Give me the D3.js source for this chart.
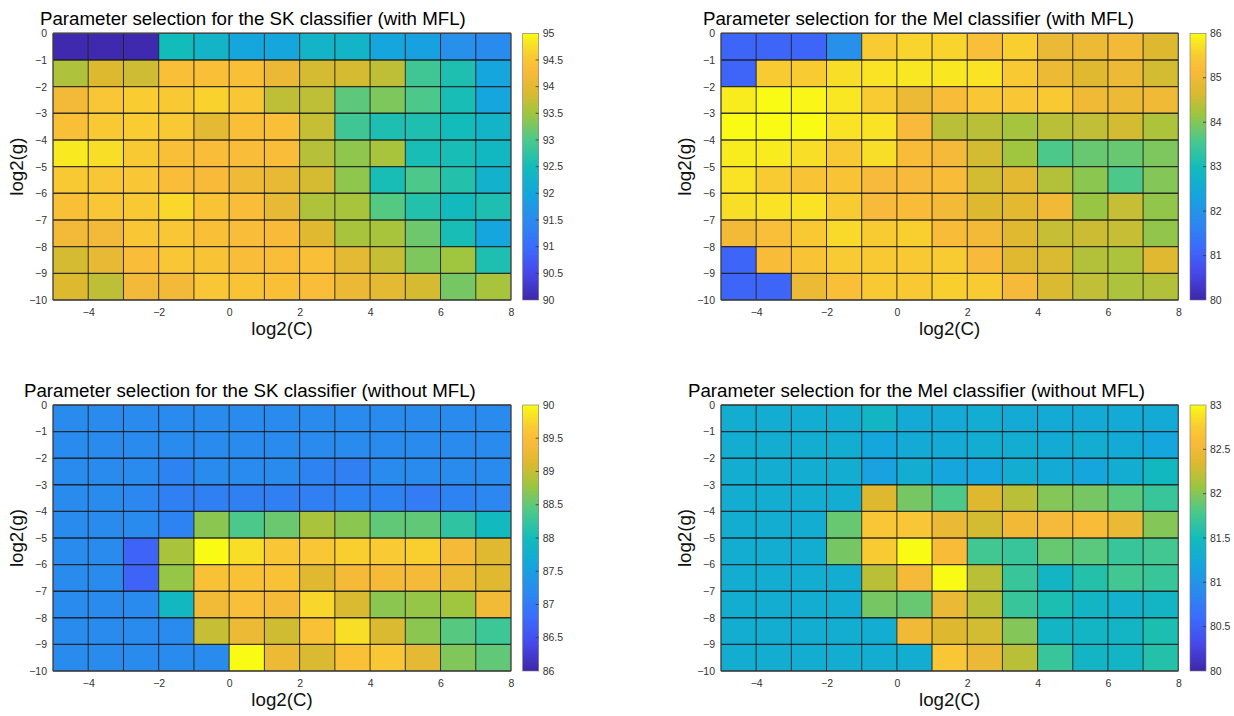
<!DOCTYPE html>
<html>
<head>
<meta charset="utf-8">
<script src="https://cdn.jsdelivr.net/npm/d3@7"></script>
<style>
  body { margin: 0; background: #fff; }
  svg { display: block; }
  text { font-family: "Liberation Sans", Arial, Helvetica, sans-serif; }
</style>
</head>
<body>
<svg id="chart" width="1234" height="716"></svg>
<script>
// Grid: left edge of each log2(C) cell, top edge of each log2(g) cell
const logC = [-5, -4, -3, -2, -1, 0, 1, 2, 3, 4, 5, 6, 7];
const logG = [0, -1, -2, -3, -4, -5, -6, -7, -8, -9];
const xTicks = [-4, -2, 0, 2, 4, 6, 8];
const yTicks = [0, -1, -2, -3, -4, -5, -6, -7, -8, -9, -10];

const titles = [
  "Parameter selection for the SK classifier (with MFL)",
  "Parameter selection for the Mel classifier (with MFL)",
  "Parameter selection for the SK classifier (without MFL)",
  "Parameter selection for the Mel classifier (without MFL)"
];

// accuracy (%) per cell, rows = log2(g) 0..-9, cols = log2(C) -5..7
const skWithMFL = [
  [90.05, 90.05, 90.05, 92.5, 92.3, 92.0, 92.0, 92.3, 92.3, 92.0, 91.9, 91.6, 91.5],
  [93.6, 93.9, 93.8, 94.4, 94.4, 94.4, 94.1, 93.85, 93.85, 93.7, 92.9, 92.6, 92.0],
  [94.2, 94.5, 94.6, 94.55, 94.65, 94.5, 93.7, 93.7, 93.1, 93.3, 93.0, 92.55, 92.0],
  [94.4, 94.55, 94.6, 94.55, 94.0, 94.4, 94.4, 93.75, 92.9, 92.6, 92.6, 92.5, 92.3],
  [94.85, 94.75, 94.55, 94.4, 94.35, 94.35, 94.35, 93.65, 93.4, 93.55, 92.55, 92.55, 92.4],
  [94.55, 94.5, 94.5, 94.35, 94.3, 94.15, 94.05, 93.85, 93.4, 92.55, 93.0, 92.65, 92.25],
  [94.4, 94.5, 94.55, 94.7, 94.45, 94.35, 94.05, 93.6, 93.55, 93.05, 92.65, 92.45, 92.6],
  [94.2, 94.2, 94.5, 94.5, 94.4, 94.35, 94.3, 93.95, 93.55, 93.55, 93.2, 92.55, 92.0],
  [93.85, 94.05, 94.35, 94.5, 94.45, 94.35, 94.35, 94.4, 94.0, 93.75, 93.3, 93.5, 92.6],
  [93.9, 93.7, 94.2, 94.2, 94.5, 94.45, 94.4, 94.35, 94.1, 94.0, 93.85, 93.25, 93.55]
];

const melWithMFL = [
  [81.1, 81.1, 81.1, 81.9, 85.5, 85.6, 85.6, 85.25, 85.55, 84.9, 84.95, 85.05, 84.7],
  [81.1, 85.5, 85.5, 85.7, 85.75, 85.8, 85.8, 85.75, 85.45, 84.95, 84.75, 84.95, 84.6],
  [85.85, 86.0, 85.95, 85.8, 85.5, 84.95, 85.2, 85.4, 85.4, 85.45, 85.0, 84.95, 85.0],
  [86.0, 86.0, 86.0, 85.75, 85.75, 85.15, 84.4, 84.4, 84.25, 84.4, 84.45, 84.6, 84.3],
  [85.85, 85.85, 85.7, 85.45, 85.7, 85.2, 85.1, 84.6, 84.2, 83.6, 83.8, 83.8, 83.95],
  [85.75, 85.5, 85.35, 85.35, 85.15, 85.15, 85.2, 84.6, 84.8, 84.35, 84.05, 83.6, 84.0],
  [85.7, 85.75, 85.75, 85.5, 85.15, 85.2, 85.05, 84.7, 84.8, 85.0, 84.15, 84.5, 84.1],
  [85.05, 85.25, 85.45, 85.65, 85.5, 85.55, 85.2, 85.05, 84.75, 84.5, 84.55, 84.5, 84.1],
  [81.1, 85.2, 85.35, 85.5, 85.45, 85.45, 85.5, 85.15, 84.75, 84.65, 84.35, 84.3, 84.75],
  [81.1, 81.1, 84.95, 85.25, 85.45, 85.45, 85.55, 85.5, 85.1, 84.65, 84.45, 84.3, 84.35]
];

const skWithoutMFL = [
  [87.2, 87.2, 87.2, 87.2, 87.2, 87.2, 87.2, 87.2, 87.2, 87.2, 87.2, 87.2, 87.2],
  [87.2, 87.2, 87.2, 87.2, 87.2, 87.2, 87.2, 87.2, 87.2, 87.2, 87.2, 87.2, 87.2],
  [87.2, 87.2, 87.2, 87.1, 87.2, 87.2, 87.2, 87.1, 87.05, 87.2, 87.2, 87.2, 87.2],
  [87.2, 87.2, 87.15, 87.05, 87.05, 87.05, 87.05, 87.05, 87.1, 87.1, 87.0, 87.1, 87.15],
  [87.2, 87.2, 87.2, 87.1, 88.7, 88.4, 88.55, 88.85, 88.7, 88.5, 88.5, 88.2, 87.95],
  [87.2, 87.2, 86.7, 88.85, 90.0, 89.8, 89.6, 89.6, 89.7, 89.65, 89.7, 89.4, 89.15],
  [87.2, 87.2, 86.7, 88.75, 89.55, 89.55, 89.55, 89.15, 89.4, 89.4, 89.4, 89.3, 89.15],
  [87.2, 87.2, 87.2, 87.9, 89.35, 89.5, 89.4, 89.75, 89.1, 88.7, 88.75, 88.8, 89.35],
  [87.2, 87.2, 87.2, 87.2, 89.0, 89.3, 89.05, 89.55, 89.8, 89.1, 88.7, 88.45, 88.3],
  [87.2, 87.2, 87.2, 87.2, 87.2, 90.0, 89.3, 89.1, 89.55, 89.6, 89.2, 88.65, 88.5]
];

const melWithoutMFL = [
  [81.3, 81.3, 81.3, 81.3, 81.4, 81.25, 81.25, 81.3, 81.25, 81.25, 81.25, 81.25, 81.25],
  [81.3, 81.3, 81.3, 81.3, 81.2, 81.25, 81.25, 81.3, 81.3, 81.25, 81.3, 81.25, 81.2],
  [81.3, 81.3, 81.3, 81.3, 81.15, 81.3, 81.2, 81.2, 81.3, 81.25, 81.2, 81.3, 81.45],
  [81.3, 81.3, 81.3, 81.3, 82.35, 81.95, 81.8, 82.35, 82.2, 82.0, 81.95, 81.85, 81.7],
  [81.3, 81.3, 81.3, 81.9, 82.7, 82.7, 82.45, 82.3, 82.5, 82.55, 82.6, 82.45, 82.0],
  [81.3, 81.3, 81.3, 81.95, 82.75, 83.0, 82.6, 81.75, 81.7, 81.9, 81.85, 81.7, 81.75],
  [81.3, 81.3, 81.3, 81.3, 82.2, 82.55, 83.0, 82.2, 81.7, 81.4, 81.6, 81.75, 81.7],
  [81.3, 81.3, 81.3, 81.3, 81.95, 81.9, 82.45, 82.2, 81.7, 81.55, 81.4, 81.35, 81.4],
  [81.3, 81.3, 81.3, 81.3, 81.3, 82.5, 82.35, 82.3, 82.0, 81.4, 81.4, 81.4, 81.55],
  [81.3, 81.3, 81.3, 81.3, 81.3, 81.3, 82.7, 82.45, 82.2, 81.7, 81.4, 81.4, 81.6]
];

// colorbar ranges and ticks
const skWithTicks = [90, 90.5, 91, 91.5, 92, 92.5, 93, 93.5, 94, 94.5, 95];
const melWithTicks = [80, 81, 82, 83, 84, 85, 86];
const skWithoutTicks = [86, 86.5, 87, 87.5, 88, 88.5, 89, 89.5, 90];
const melWithoutTicks = [80, 80.5, 81, 81.5, 82, 82.5, 83];

// parula-like colormap
const parulaPos = [0, 0.1, 0.2, 0.3, 0.4, 0.5, 0.6, 0.7, 0.78, 0.86, 0.92, 1];
const parulaCol = ["#3e26a8", "#4748e9", "#3b6cfc", "#2a8bee", "#14a6dc", "#12bcba",
                   "#4cc98a", "#a0c53e", "#ddb930", "#f9ba3a", "#f9cc32", "#f9fb15"];
const parula = d3.scaleLinear().domain(parulaPos).range(parulaCol)
  .interpolate(d3.interpolateRgb).clamp(true);

const svg = d3.select("#chart");

const grad = svg.append("defs").append("linearGradient")
  .attr("id", "parulaGrad")
  .attr("x1", 0).attr("y1", 1).attr("x2", 0).attr("y2", 0);
grad.selectAll("stop")
  .data(d3.range(0, 1.0001, 0.02))
  .enter().append("stop")
  .attr("offset", d => d)
  .attr("stop-color", d => parula(d));

const panels = [
  { title: titles[0], values: skWithMFL, ticks: skWithTicks,
    box: { left: 53, right: 511, top: 33.3, bottom: 300, titleX: 40 } },
  { title: titles[1], values: melWithMFL, ticks: melWithTicks,
    box: { left: 721, right: 1178.3, top: 33.3, bottom: 300, titleX: 703 } },
  { title: titles[2], values: skWithoutMFL, ticks: skWithoutTicks,
    box: { left: 53, right: 511, top: 405, bottom: 671, titleX: 24 } },
  { title: titles[3], values: melWithoutMFL, ticks: melWithoutTicks,
    box: { left: 721, right: 1178.3, top: 405, bottom: 671, titleX: 688 } }
];

panels.forEach(p => drawPanel(p));

function drawPanel(p) {
  const b = p.box;
  const g = svg.append("g");

  const x = d3.scaleLinear().domain([logC[0], logC[logC.length - 1] + 1]).range([b.left, b.right]);
  const y = d3.scaleLinear().domain([logG[logG.length - 1] - 1, logG[0]]).range([b.bottom, b.top]);
  const vmin = p.ticks[0], vmax = p.ticks[p.ticks.length - 1];
  const color = v => parula((v - vmin) / (vmax - vmin));

  // cells
  const cells = [];
  p.values.forEach((row, i) => row.forEach((v, j) => cells.push({ c: logC[j], gg: logG[i], v })));
  g.selectAll("rect.cell")
    .data(cells)
    .enter().append("rect")
    .attr("class", "cell")
    .attr("x", d => x(d.c))
    .attr("y", d => y(d.gg))
    .attr("width", d => x(d.c + 1) - x(d.c))
    .attr("height", d => y(d.gg - 1) - y(d.gg))
    .attr("fill", d => color(d.v));

  // cell borders
  const xEdges = logC.concat([logC[logC.length - 1] + 1]);
  const yEdges = logG.concat([logG[logG.length - 1] - 1]);
  g.selectAll("line.v")
    .data(xEdges)
    .enter().append("line")
    .attr("x1", d => x(d)).attr("x2", d => x(d))
    .attr("y1", b.top).attr("y2", b.bottom)
    .attr("stroke", "#141414").attr("stroke-width", 1).attr("stroke-opacity", 0.85);
  g.selectAll("line.h")
    .data(yEdges)
    .enter().append("line")
    .attr("y1", d => y(d)).attr("y2", d => y(d))
    .attr("x1", b.left).attr("x2", b.right)
    .attr("stroke", "#141414").attr("stroke-width", 1.4).attr("stroke-opacity", 0.85);

  // axes
  const xAxis = g.append("g")
    .attr("transform", `translate(0,${b.bottom})`)
    .call(d3.axisBottom(x).tickValues(xTicks).tickSize(0).tickPadding(8.5));
  const yAxis = g.append("g")
    .attr("transform", `translate(${b.left},0)`)
    .call(d3.axisLeft(y).tickValues(yTicks).tickSize(0).tickPadding(6));
  [xAxis, yAxis].forEach(a => {
    a.select(".domain").remove();
    a.selectAll("text")
      .style("font-family", "'Liberation Sans', Arial, sans-serif")
      .style("font-size", "10.5px")
      .style("fill", "#333");
  });

  // outline
  g.append("rect")
    .attr("x", b.left).attr("y", b.top)
    .attr("width", b.right - b.left).attr("height", b.bottom - b.top)
    .attr("fill", "none").attr("stroke", "#555").attr("stroke-width", 0.8);

  // title and labels
  g.append("text")
    .attr("x", b.titleX).attr("y", b.top - 8)
    .style("font-size", "18.7px")
    .style("fill", "#000")
    .text(p.title);

  g.append("text")
    .attr("x", (b.left + b.right) / 2).attr("y", b.bottom + 35)
    .attr("text-anchor", "middle")
    .style("font-size", "18.7px")
    .style("fill", "#111")
    .text("log2(C)");

  g.append("text")
    .attr("transform", `translate(${b.left - 30},${(b.top + b.bottom) / 2}) rotate(-90)`)
    .attr("text-anchor", "middle")
    .style("font-size", "18.7px")
    .style("fill", "#111")
    .text("log2(g)");

  // colorbar
  const cbLeft = b.right + 11.7, cbW = 16;
  const cy = d3.scaleLinear().domain([vmin, vmax]).range([b.bottom, b.top]);
  g.append("rect")
    .attr("x", cbLeft).attr("y", b.top)
    .attr("width", cbW).attr("height", b.bottom - b.top)
    .attr("fill", "url(#parulaGrad)")
    .attr("stroke", "#777").attr("stroke-width", 0.6);
  g.selectAll("line.cbt")
    .data(p.ticks.slice(1, -1))
    .enter().append("line")
    .attr("x1", cbLeft + cbW - 3).attr("x2", cbLeft + cbW)
    .attr("y1", d => cy(d)).attr("y2", d => cy(d))
    .attr("stroke", "#333").attr("stroke-width", 0.8);
  g.selectAll("text.cbl")
    .data(p.ticks)
    .enter().append("text")
    .attr("x", cbLeft + cbW + 4)
    .attr("y", d => cy(d))
    .attr("dy", "0.35em")
    .style("font-size", "10.5px")
    .style("fill", "#333")
    .text(d => d);
}
</script>
</body>
</html>
